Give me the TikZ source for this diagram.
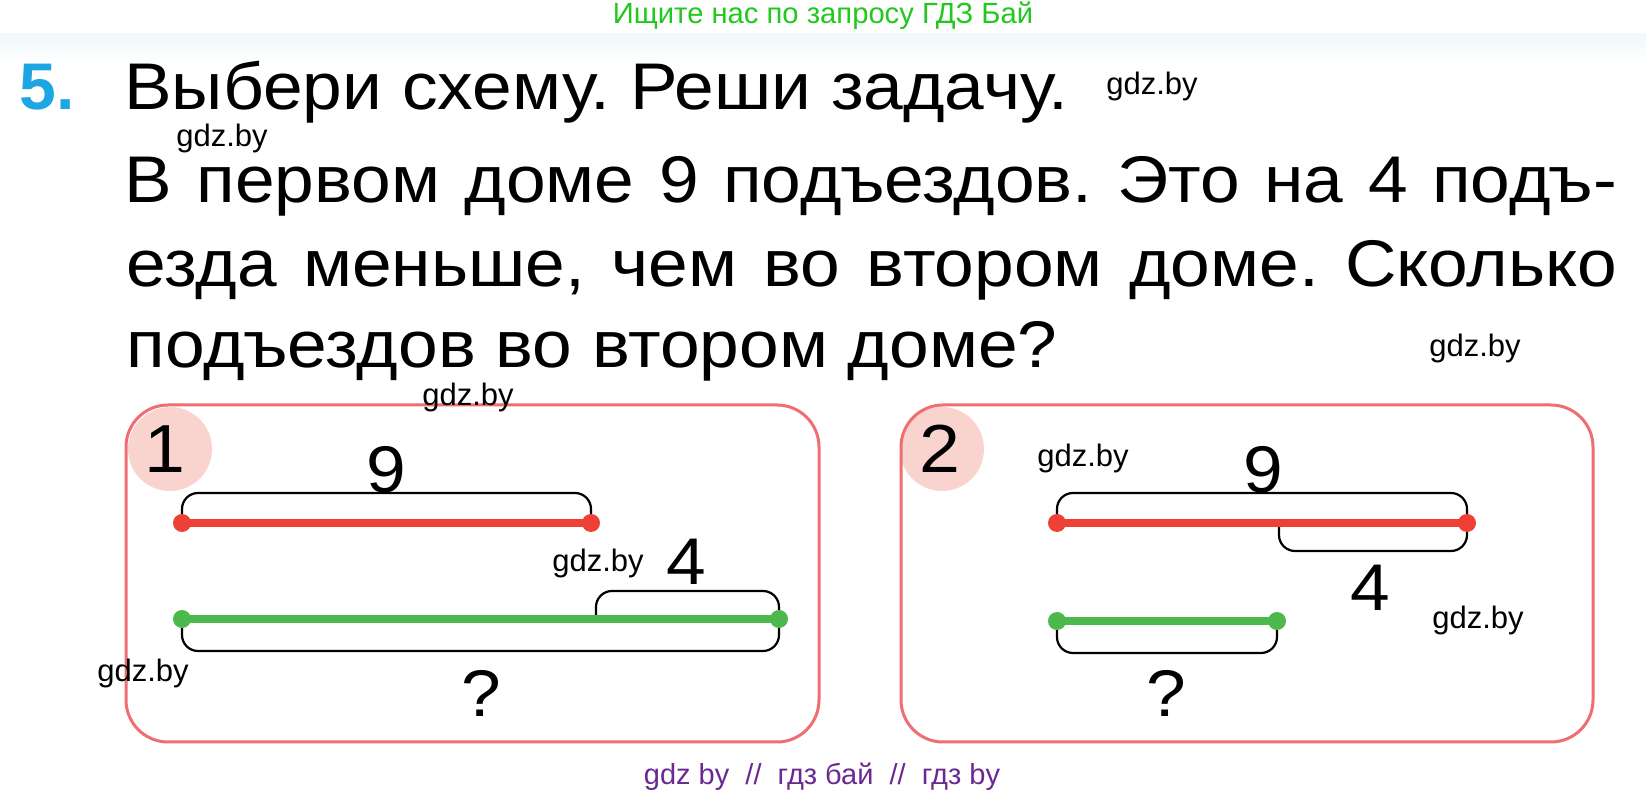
\documentclass[tikz,border=0pt]{standalone}
\usepackage{fontspec}
\setmainfont{Liberation Sans}
\newfontfamily\widefont[FakeStretch=1.08]{Liberation Sans}
\definecolor{schemered}{HTML}{EE4034}
\definecolor{schemegreen}{HTML}{4DB84B}
\definecolor{framered}{HTML}{EE6E73}
\definecolor{badgepink}{HTML}{F9D4CE}
\definecolor{headgreen}{HTML}{22C81E}
\definecolor{numblue}{HTML}{1CA6E3}
\definecolor{markpurple}{HTML}{6A2A92}
\definecolor{bandcyan}{HTML}{EEF9FB}
\frenchspacing

\begin{document}
\begin{tikzpicture}[x=0.5pt,y=-0.5pt,
	txt/.style={inner sep=0pt, anchor=base west, font=\widefont\fontsize{33}{40}\selectfont},
	wm/.style={inner sep=0pt, font=\fontsize{15.5}{18}\selectfont},
	digit/.style={inner sep=0pt, font=\widefont\fontsize{33}{40}\selectfont},
	panel/.style={draw=framered, line width=1.5pt, rounded corners=21pt},
	seg/.style={line width=4pt},
	brace/.style={line width=1.1pt, rounded corners=8pt}]
	\useasboundingbox (0,0) rectangle (1646,796);
	\fill[white] (0,0) rectangle (1646,796);
	\shade[top color=bandcyan, bottom color=white] (0,34) rectangle (1646,62);
	
	% header and task text
	\node[inner sep=0pt, text=headgreen, font=\fontsize{14.6}{16}\selectfont] (head) at (823,16) {Ищите нас по запросу ГДЗ Бай};
	\node[txt, text=numblue, font=\fontsize{33}{40}\selectfont\bfseries] (tasknum) at (19,110) {5.};
	\node[txt] (title) at (124,110) {Выбери схему. Реши задачу.};
	\node[txt] (lineA) at (124,203) {\makebox[746.5pt][s]{В первом доме 9 подъездов. Это на 4 подъ-}};
	\node[txt] (lineB) at (126,287) {\makebox[745.5pt][s]{езда меньше, чем во втором доме. Сколько}};
	\node[txt] (lineC) at (126,368) {подъездов во втором доме?};
	
	% panel 1
	\fill[badgepink] (170,449) circle[radius=21pt];
	\draw[panel] (126,405) rectangle (819,742);
	\node[digit, font=\widefont\fontsize{34}{40}\selectfont] (badgeA) at (165,449) {1};
	\coordinate (r1a) at (182,523); \coordinate (r1b) at (591,523);
	\coordinate (g1a) at (182,619); \coordinate (g1b) at (779,619);
	\coordinate (g1m) at (596,619);
	\draw[brace] (r1a) -- ++(0,-30) -| (r1b);
	\draw[brace] (g1m) -- ++(0,-28) -| (g1b);
	\draw[brace] (g1a) -- ++(0,32) -| (g1b);
	\draw[seg, schemered] (r1a) -- (r1b);
	\draw[seg, schemegreen] (g1a) -- (g1b);
	\foreach \p in {r1a,r1b} \fill[schemered] (\p) circle[radius=4.5pt];
	\foreach \p in {g1a,g1b} \fill[schemegreen] (\p) circle[radius=4.5pt];
	\node[digit] (nineA) at (386,470) {9};
	\node[digit] (fourA) at (686,562) {4};
	\node[digit] (askA) at (481,693) {?};
	
	% panel 2
	\fill[badgepink] (942,449) circle[radius=21pt];
	\draw[panel] (901,405) rectangle (1593,742);
	\node[digit, font=\widefont\fontsize{34}{40}\selectfont] (badgeB) at (940,449) {2};
	\coordinate (r2a) at (1057,523); \coordinate (r2b) at (1467,523);
	\coordinate (r2m) at (1279,523);
	\coordinate (g2a) at (1057,621); \coordinate (g2b) at (1277,621);
	\draw[brace] (r2a) -- ++(0,-30) -| (r2b);
	\draw[brace] (r2m) -- ++(0,28) -| (r2b);
	\draw[brace] (g2a) -- ++(0,32) -| (g2b);
	\draw[seg, schemered] (r2a) -- (r2b);
	\draw[seg, schemegreen] (g2a) -- (g2b);
	\foreach \p in {r2a,r2b} \fill[schemered] (\p) circle[radius=4.5pt];
	\foreach \p in {g2a,g2b} \fill[schemegreen] (\p) circle[radius=4.5pt];
	\node[digit] (nineB) at (1263,470) {9};
	\node[digit] (fourB) at (1370,588) {4};
	\node[digit] (askB) at (1166,693) {?};
	
	% watermarks
	\node[wm] (wmA) at (1152,86) {gdz.by};
	\node[wm] (wmB) at (222,138) {gdz.by};
	\node[wm] (wmC) at (1475,348) {gdz.by};
	\node[wm] (wmD) at (468,397) {gdz.by};
	\node[wm] (wmE) at (598,563) {gdz.by};
	\node[wm] (wmF) at (143,673) {gdz.by};
	\node[wm] (wmG) at (1083,458) {gdz.by};
	\node[wm] (wmH) at (1478,620) {gdz.by};
	\node[inner sep=0pt, text=markpurple, font=\fontsize{14.5}{16}\selectfont] (foot) at (822,777) {gdz by \ // \ гдз бай \ // \ гдз by};
\end{tikzpicture}
\end{document}
